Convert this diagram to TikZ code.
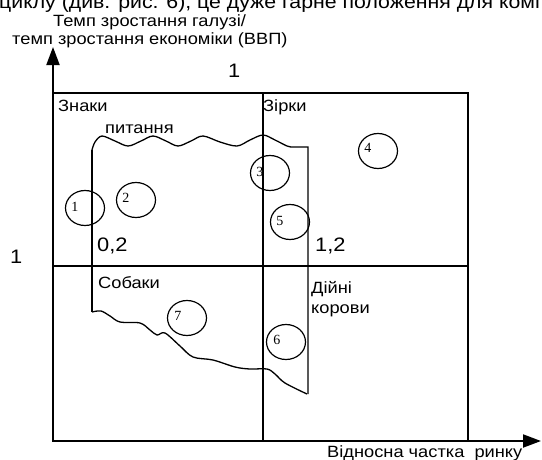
\documentclass[tikz,border=0pt]{standalone}
\usepackage{fontspec}
\setmainfont[FakeStretch=1.12]{Liberation Sans}
\newfontfamily\numfont{Liberation Serif}
\usepackage{tikz}
\usetikzlibrary{arrows.meta,shapes.geometric,positioning}

\begin{document}
\begin{tikzpicture}[x=1pt, y=-1pt,
    lbl/.style={anchor=base west, inner sep=0pt, font=\fontsize{16.3}{18}\selectfont},
    bignum/.style={anchor=base west, inner sep=0pt, font=\fontsize{19.5}{22}\selectfont},
    bubble/.style={draw, ellipse, line width=1.2pt, minimum width=39pt, minimum height=35pt, inner sep=0pt},
    num/.style={inner sep=0pt, font=\numfont\fontsize{14}{16}\selectfont},
    axis/.style={line width=2pt, -{Triangle[length=18pt, width=13pt]}},
    frame/.style={line width=1.3pt}]
        \useasboundingbox (0,0) rectangle (542,459);

        % text line cut from the page above
        \node[anchor=base west, inner sep=0pt, font=\fontsize{19}{22}\selectfont] (para) at (-1,8)
            {циклу (див. рис. 6), це дуже гарне положення для компанії};

        \coordinate (O) at (53,441);
        \coordinate (ytip) at (53,47);
        \coordinate (xtip) at (541,441);

        \draw[frame] (53,93) rectangle (468,441);
        \draw[frame] (263,93) -- (263,441);
        \draw[frame] (53,266) -- (468,266);
        \draw[axis] (O) -- (ytip);
        \draw[axis] (O) -- (xtip);

        % wavy region
        \draw[line width=1.3pt] plot[smooth, tension=0.55] coordinates {(92,150) (95,142) (102,136) (115,141) (128,146) (141,141) (153,136) (166,141) (178,146) (191,141) (203,136) (220,142) (237,146) (250,140) (263,135) (275,140) (287,146) (292,147)}
            -- (308,147) -- (308,394);
        \draw[line width=1.3pt] (92,150) -- (92,312);
        \draw[line width=1.3pt] plot[smooth, tension=0.55] coordinates {(92,312) (101,311) (110,316) (120,322) (140,323) (150,330) (157,335) (165,333) (180,346) (193,357) (213,360) (235,367) (250,369) (267,369) (275,374) (285,383) (307,394)};

        \node[lbl] (yl1) at (53,26) {Темп зростання галузі/};
        \node[lbl] (yl2) at (12,44) {темп зростання економіки (ВВП)};
        \node[lbl] (xl) at (327,457) {Відносна частка~ ринку};
        \node[bignum] (top1) at (228,77) {1};
        \node[bignum] (left1) at (10,263) {1};
        \node[lbl] (znaky) at (58,111) {Знаки};
        \node[lbl] (pyt) at (105,133) {питання};
        \node[lbl] (zirky) at (263,111) {Зірки};
        \node[lbl] (sob) at (98,288) {Собаки};
        \node[lbl] (diyni) at (311,293) {Дійні};
        \node[lbl] (korovy) at (311,313) {корови};
        \node[bignum] (lo) at (97,251) {0,2};
        \node[bignum] (hi) at (315,251) {1,2};

        \node[bubble] (c1) at (85,208) {};
        \node[bubble] (c2) at (136,200) {};
        \node[bubble] (c3) at (270,173) {};
        \node[bubble] (c4) at (378,151) {};
        \node[bubble] (c5) at (290,222) {};
        \node[bubble] (c6) at (286,342) {};
        \node[bubble] (c7) at (187,318) {};
        \node[num] at ([xshift=10pt, yshift=1pt]c1.west) {1};
        \node[num] at ([xshift=10pt, yshift=2pt]c2.west) {2};
        \node[num] at ([xshift=10pt, yshift=1pt]c3.west) {3};
        \node[num] at ([xshift=10pt, yshift=3pt]c4.west) {4};
        \node[num] at ([xshift=10pt, yshift=1pt]c5.west) {5};
        \node[num] at ([xshift=11pt, yshift=2pt]c6.west) {6};
        \node[num] at ([xshift=11pt, yshift=2pt]c7.west) {7};
    \end{tikzpicture}
\end{document}
